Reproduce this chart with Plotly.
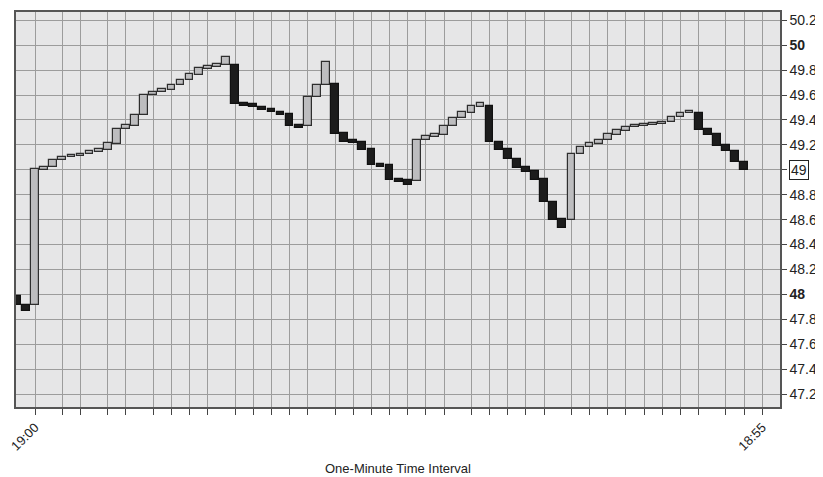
import plotly.graph_objects as go

# Candle open / close values (one-minute bars)
opens = [47.99, 47.915, 47.915, 49.0, 49.02, 49.075, 49.10, 49.112, 49.123, 49.142,
         49.16, 49.209, 49.327, 49.354, 49.44, 49.60, 49.621, 49.643, 49.683, 49.723,
         49.761, 49.812, 49.825, 49.844, 49.844, 49.536, 49.525, 49.506, 49.488, 49.464,
         49.448, 49.356, 49.354, 49.584, 49.681, 49.691, 49.295, 49.239, 49.227, 49.169,
         49.046, 49.038, 48.927, 48.917, 48.911, 49.243, 49.263, 49.279, 49.354, 49.412,
         49.458, 49.504, 49.509, 49.227, 49.169, 49.086, 49.026, 48.989, 48.925, 48.745,
         48.606, 48.598, 49.123, 49.182, 49.209, 49.241, 49.281, 49.313, 49.343, 49.354,
         49.362, 49.37, 49.383, 49.42, 49.456, 49.456, 49.327, 49.287, 49.195, 49.147,
         49.064]
closes = [47.915, 47.87, 49.005, 49.02, 49.075, 49.10, 49.12, 49.128, 49.15, 49.166,
          49.215, 49.327, 49.356, 49.442, 49.60, 49.621, 49.648, 49.683, 49.723, 49.766,
          49.817, 49.83, 49.846, 49.906, 49.525, 49.514, 49.504, 49.482, 49.46, 49.44,
          49.348, 49.338, 49.587, 49.683, 49.866, 49.289, 49.227, 49.217, 49.161, 49.038,
          49.026, 48.917, 48.906, 48.879, 49.241, 49.268, 49.287, 49.354, 49.415, 49.46,
          49.509, 49.536, 49.223, 49.158, 49.086, 49.018, 48.984, 48.919, 48.745, 48.598,
          48.536, 49.126, 49.185, 49.215, 49.243, 49.284, 49.316, 49.346, 49.359, 49.37,
          49.378, 49.386, 49.423, 49.456, 49.474, 49.321, 49.281, 49.193, 49.147, 49.064,
          48.999]

# x-axis tick positions (bar index) and labels
x_tick_pos = [2, 5, 7, 10, 12, 15, 17, 19, 21, 24, 26, 28, 30, 32, 35, 37, 39, 41, 43,
              45, 47, 50, 52, 54, 56, 58, 61, 63, 65, 67, 69, 71, 73, 75, 78, 80, 82]
x_tick_labels = {2: "19:00", 82: "18:55"}

# y-axis ticks
y_ticks = [47.2, 47.4, 47.6, 47.8, 48.0, 48.2, 48.4, 48.6, 48.8, 49.0, 49.2, 49.4,
           49.6, 49.8, 50.0, 50.2]
y_labels = ["47.2", "47.4", "47.6", "47.8", "<b>48</b>", "48.2", "48.4", "48.6", "48.8",
            "", "49.2", "49.4", "49.6", "49.8", "<b>50</b>", "50.2"]

x = list(range(len(opens)))
base = [min(o, c) for o, c in zip(opens, closes)]
height = [abs(c - o) for o, c in zip(opens, closes)]
up = [c >= o for o, c in zip(opens, closes)]
fill = ["#bdbdbf" if u else "#1c1c1c" for u in up]
edge = ["#2e2e2e" if u else "#111111" for u in up]

fig = go.Figure()
fig.add_trace(go.Bar(
    x=x, y=height, base=base, width=0.85,
    marker=dict(color=fill, line=dict(color=edge, width=1.2)),
    hoverinfo="skip", showlegend=False,
))

# the page body has an 8px default margin, so the figure is sized to fit the window
font_family = "Liberation Sans, Arial, Helvetica, sans-serif"
fig.update_layout(
    width=815, height=469,
    margin=dict(l=8, r=43, t=4, b=70, autoexpand=False),
    paper_bgcolor="white",
    plot_bgcolor="#e6e6e7",
    bargap=0,
    font=dict(family=font_family, size=14, color="#222222"),
    xaxis=dict(
        range=[-0.09, 83.95],
        automargin=False,
        tickmode="array",
        tickvals=x_tick_pos,
        ticktext=[x_tick_labels.get(v, "") for v in x_tick_pos],
        tickangle=-45,
        ticks="outside", ticklen=6, tickcolor="#444", tickwidth=1,
        showgrid=True, gridcolor="#9c9c9c", gridwidth=1.2,
        showline=True, linecolor="#555555", linewidth=1.5, mirror=True,
        zeroline=False,
        tickfont=dict(size=13, color="#222222"),
    ),
    yaxis=dict(
        range=[47.097, 50.266],
        automargin=False,
        side="right",
        tickmode="array",
        tickvals=y_ticks,
        ticktext=y_labels,
        ticks="outside", ticklen=5, tickcolor="#444", tickwidth=1,
        showgrid=True, gridcolor="#9c9c9c", gridwidth=1.2,
        showline=True, linecolor="#555555", linewidth=1.5, mirror=True,
        zeroline=False,
        tickfont=dict(size=14, color="#222222"),
    ),
    annotations=[
        dict(text="49", x=1, xref="paper", y=49.0, yref="y",
             xanchor="left", yanchor="middle", xshift=9, showarrow=False,
             bordercolor="#222222", borderwidth=1, borderpad=1,
             font=dict(size=14, color="#222222")),
        dict(text="One-Minute Time Interval", x=0.5, xref="paper", y=0, yref="paper",
             xanchor="center", yanchor="middle", yshift=-61, showarrow=False,
             font=dict(size=13, color="#222222")),
    ],
)

fig.write_html("out.html")
